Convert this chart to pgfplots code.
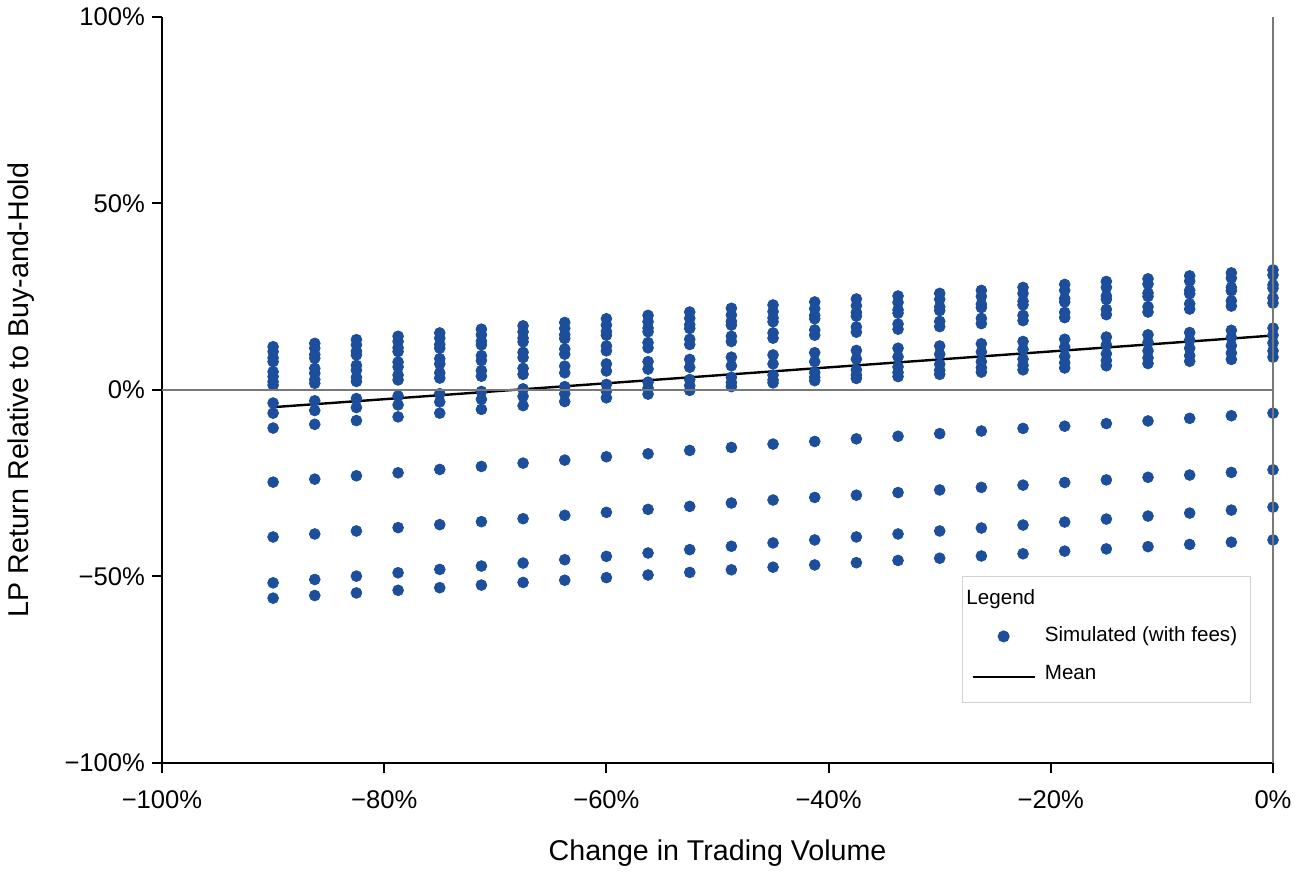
\documentclass[border=0pt]{standalone}
\usepackage{pgfplots}
\pgfplotsset{compat=1.18}
\usepackage{pgfplotstable}
\usepackage{fontspec}
\setmainfont{Liberation Sans}
\definecolor{dotblue}{RGB}{28,78,155}
\definecolor{zerogray}{RGB}{120,120,120}
\definecolor{leggray}{RGB}{210,210,210}

\pgfplotsset{
  dotlegend/.style={legend image code/.code={\draw[mark repeat=2,mark phase=2,##1] plot coordinates {(0pt,0pt)(15.5pt,0pt)(31pt,0pt)};}},
  linelegend/.style={legend image code/.code={\draw[##1] (0pt,0pt) -- (31pt,0pt);}},
}

\pgfplotstableread{
x U1 U2 U3 U4 U5 U6 M1 M2 M3 M4 M5 L1 L2 L3 L4
-90 11.6 10.3 8.6 7.6 4.9 3.6 2.2 1.3 -3.5 -6.2 -10.2 -24.7 -39.4 -51.7 -55.8
-86.25 12.5 11.2 9.5 8.5 5.8 4.5 2.8 1.8 -2.9 -5.5 -9.2 -23.9 -38.6 -50.8 -55.1
-82.5 13.5 12.1 10.4 9.4 6.6 5.3 3.4 2.3 -2.3 -4.7 -8.2 -23.0 -37.8 -49.9 -54.4
-78.75 14.4 13.0 11.3 10.3 7.5 6.2 4.0 2.7 -1.6 -4.0 -7.2 -22.2 -36.9 -49.0 -53.7
-75 15.3 13.9 12.2 11.2 8.4 7.0 4.6 3.2 -1.0 -3.2 -6.2 -21.3 -36.1 -48.1 -53.0
-71.25 16.3 14.8 13.1 12.1 9.2 7.9 5.2 3.7 -0.4 -2.5 -5.2 -20.5 -35.3 -47.2 -52.3
-67.5 17.2 15.6 13.9 12.9 10.1 8.7 5.8 4.2 0.3 -1.7 -4.2 -19.6 -34.5 -46.4 -51.6
-63.75 18.1 16.5 14.8 13.8 11.0 9.6 6.4 4.6 0.9 -1.0 -3.1 -18.8 -33.6 -45.5 -51.0
-60 19.1 17.4 15.7 14.7 11.8 10.5 7.0 5.1 1.5 -0.3 -2.1 -17.9 -32.8 -44.6 -50.3
-56.25 20.0 18.3 16.6 15.6 12.7 11.3 7.6 5.6 2.1 0.5 -1.1 -17.1 -32.0 -43.7 -49.6
-52.5 20.9 19.2 17.5 16.5 13.6 12.2 8.2 6.1 2.8 1.2 -0.1 -16.2 -31.2 -42.8 -48.9
-48.75 21.9 20.1 18.4 17.4 14.4 13.0 8.8 6.5 3.4 2.0 0.9 -15.4 -30.3 -41.9 -48.2
-45 22.8 21.0 19.3 18.3 15.3 13.9 9.4 7.0 4.0 2.7 1.9 -14.5 -29.5 -41.0 -47.5
-41.25 23.6 21.8 20.0 19.1 16.1 14.7 10.0 7.6 4.7 3.4 2.5 -13.8 -28.8 -40.2 -46.9
-37.5 24.4 22.6 20.8 19.8 16.9 15.5 10.6 8.3 5.4 4.0 3.1 -13.1 -28.2 -39.4 -46.3
-33.75 25.2 23.5 21.5 20.6 17.7 16.3 11.2 8.9 6.2 4.7 3.6 -12.4 -27.5 -38.6 -45.7
-30 25.9 24.3 22.3 21.3 18.4 17.0 11.8 9.6 6.9 5.3 4.2 -11.7 -26.8 -37.8 -45.1
-26.25 26.7 25.1 23.0 22.1 19.2 17.8 12.4 10.2 7.6 6.0 4.8 -11.0 -26.1 -37.0 -44.5
-22.5 27.5 25.9 23.8 22.8 20.0 18.6 13.0 10.9 8.3 6.6 5.4 -10.3 -25.5 -36.2 -43.9
-18.75 28.3 26.7 24.5 23.6 20.8 19.4 13.6 11.5 9.0 7.3 5.9 -9.7 -24.8 -35.4 -43.2
-15 29.1 27.5 25.2 24.3 21.6 20.2 14.2 12.1 9.7 7.9 6.5 -9.0 -24.1 -34.6 -42.6
-11.25 29.8 28.4 26.0 25.1 22.3 20.9 14.8 12.8 10.5 8.6 7.1 -8.3 -23.4 -33.8 -42.0
-7.5 30.6 29.2 26.7 25.8 23.1 21.7 15.4 13.4 11.2 9.2 7.7 -7.6 -22.8 -33.0 -41.4
-3.75 31.4 30.0 27.5 26.6 23.9 22.5 16.0 14.1 11.9 9.9 8.2 -6.9 -22.1 -32.2 -40.8
0 32.2 30.8 28.2 27.3 24.7 23.3 16.6 14.7 12.6 10.5 8.8 -6.2 -21.4 -31.4 -40.2
}\simdata

\begin{document}
\begin{tikzpicture}
\useasboundingbox (-81pt,-54.5pt) rectangle (569pt,381.5pt);
\begin{axis}[
  at={(0,0)}, anchor=south west,
  scale only axis, width=555.5pt, height=373pt,
  xmin=-100, xmax=0, ymin=-100, ymax=100,
  axis x line=bottom, axis y line=left,
  axis line style={-, line width=1pt, black},
  xtick={-100,-80,-60,-40,-20,0},
  xticklabels={−100\%,−80\%,−60\%,−40\%,−20\%,0\%},
  ytick={-100,-50,0,50,100},
  yticklabels={−100\%,−50\%,0\%,50\%,100\%},
  tick align=outside, major tick length=5pt,
  tick style={black, line width=1pt},
  minor tick num=0,
  ticklabel style={font=\fontsize{12.8}{15}\selectfont},
  xticklabel style={yshift=-5.5pt},
  xlabel={Change in Trading Volume},
  ylabel={LP Return Relative to Buy-and-Hold},
  label style={font=\fontsize{14.3}{17}\selectfont},
  xlabel style={at={(axis description cs:0.5,0)}, anchor=base, yshift=-48.5pt},
  ylabel style={at={(axis description cs:-0.1265,0.5)}, anchor=center},
  clip=true,
  legend cell align=left,
  legend style={at={(rel axis cs:0.980,0.080)}, anchor=south east,
    draw=leggray, fill=white, line width=0.6pt,
    inner xsep=4.5pt, inner ysep=4pt,
    font=\fontsize{10.3}{12.4}\selectfont,
    row sep=4.4pt,
    nodes={text height=8pt, text depth=2.5pt},
    /tikz/every odd column/.append style={column sep=2.5pt}},
  after end axis/.code={
    \draw[zerogray, line width=1.4pt] (axis cs:-100,0) -- (axis cs:0,0);
    \draw[zerogray, line width=1pt] (axis cs:0,-100) -- (axis cs:0,100);
  },
]
\addlegendimage{empty legend}
\addlegendentry{\hspace{-41pt}Legend}

\addplot[only marks, mark=*, color=dotblue, mark size=2.7pt, dotlegend]
  table[x=x,y=U1]{\simdata};
\addlegendentry{Simulated (with fees)}

\pgfplotsinvokeforeach{U2,U3,U4,U5,U6,M1,M2,M3,M4,M5,L1,L2,L3,L4}{
  \addplot[only marks, mark=*, color=dotblue, mark size=2.7pt, forget plot]
    table[x=x,y=#1]{\simdata};
}

\addplot[black, line width=1.2pt, no marks, linelegend]
  coordinates {(-90,-4.6) (0,14.6)};
\addlegendentry[text depth=5.5pt]{Mean}
\end{axis}
\end{tikzpicture}
\end{document}
